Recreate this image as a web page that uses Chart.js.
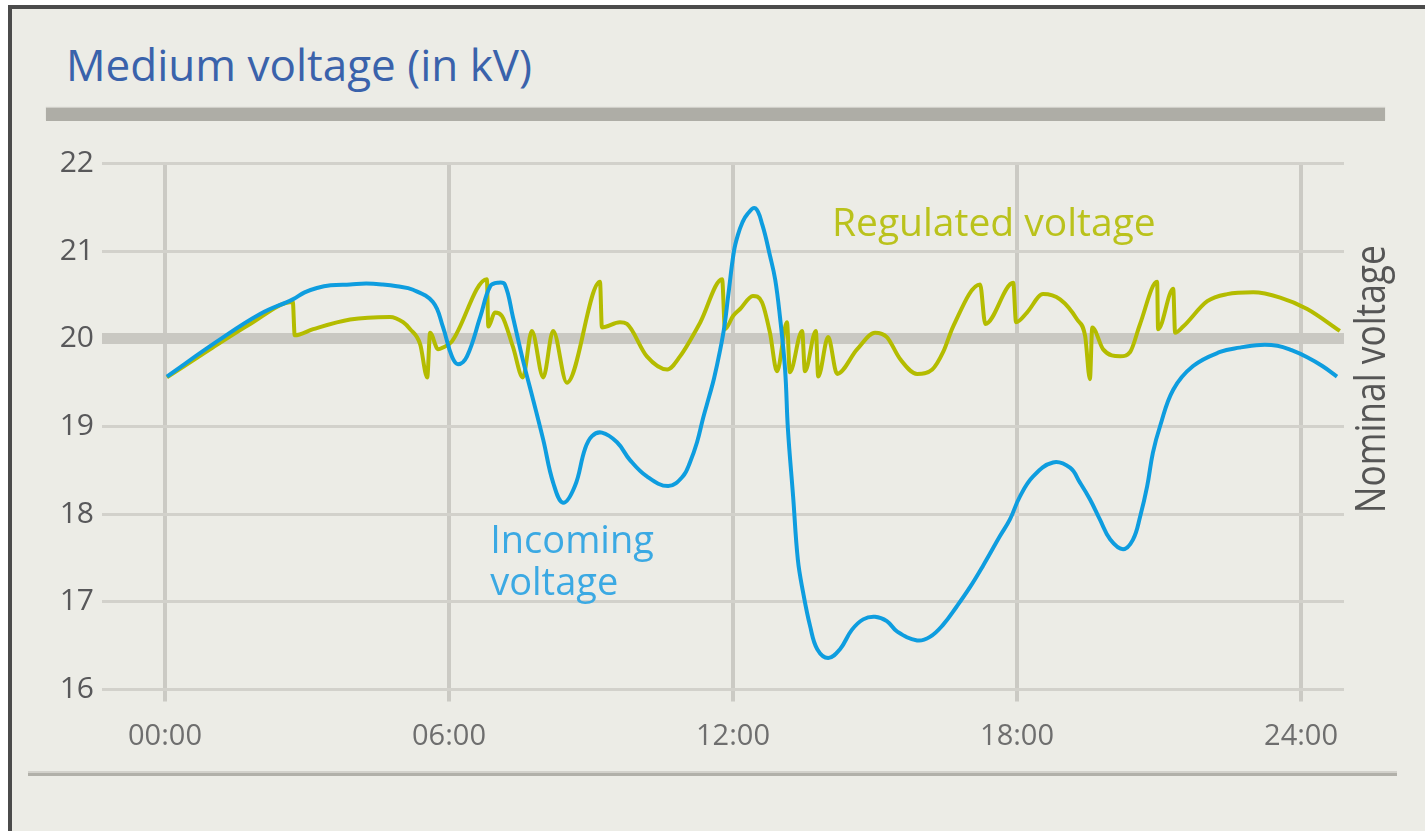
<!DOCTYPE html>
<html>
<head>
<meta charset="utf-8">
<script src="https://cdn.jsdelivr.net/npm/chart.js@4.4.0/dist/chart.umd.min.js"></script>
<style>
  html, body { margin: 0; padding: 0; background: #ffffff; width: 1425px; height: 831px; overflow: hidden; }
  #frame { position: absolute; left: 8px; top: 5px; right: 0; bottom: 0; background: #ecece6;
           border-left: 4px solid #4b4b4b; border-top: 4px solid #4b4b4b; }
  #title { position: absolute; left: 66px; top: 42px; font-family: "Open Sans", sans-serif; font-size: 44px;
           line-height: 44px; color: #3a62ab; white-space: nowrap; }
  #bar { position: absolute; left: 46px; top: 108px; width: 1339px; height: 13px; background: #aeada6;
         box-shadow: 0 -1px 1px #d0cfc9; }
  #foot { position: absolute; left: 28px; top: 771px; width: 1369px; height: 5px; background: #b1b0a9;
          border-top: 2px solid #d2d1cb; box-sizing: border-box; }
  #c { position: absolute; left: 0; top: 0; }
</style>
</head>
<body>
<div id="frame"></div>
<div id="title">Medium voltage (in kV)</div>
<div id="bar"></div>
<div id="foot"></div>
<canvas id="c" width="1425" height="831"></canvas>
<script>
// ---- data ----
const seriesNames = ['Incoming voltage', 'Regulated voltage'];
const referenceName = 'Nominal voltage';
const nominalValue = 20;

const xTickValues = [0, 6, 12, 18, 24];
const xTickLabels = ['00:00', '06:00', '12:00', '18:00', '24:00'];
const yTickValues = [16, 17, 18, 19, 20, 21, 22];

const incomingHours = [0.04, 1.1, 2.0, 2.7, 2.95, 3.21, 3.5, 3.91, 4.25, 4.6, 4.9, 5.24, 5.66, 5.87, 6.06, 6.19, 6.38, 6.66,
  6.87, 7.04, 7.18, 7.35, 7.56, 7.78, 7.99, 8.2, 8.41, 8.66, 8.87, 9.02, 9.23, 9.55, 9.82, 10.18, 10.63, 10.94, 11.09,
  11.24, 11.37, 11.5, 11.6, 11.72, 11.82, 11.9, 12.02, 12.1, 12.2, 12.3, 12.47, 12.62, 12.78, 12.89, 12.99, 13.1, 13.16,
  13.27, 13.37, 13.48, 13.63, 13.78, 14.01, 14.26, 14.51, 14.75, 15.0, 15.25, 15.47, 15.89, 16.16, 16.44, 16.73, 17.01,
  17.28, 17.64, 17.85, 18.06, 18.34, 18.76, 19.12, 19.33, 19.54, 19.75, 19.97, 20.24, 20.45, 20.6, 20.75, 20.87, 21.02,
  21.3, 21.72, 22.29, 22.7, 23.14, 23.5, 23.8, 24.13, 24.45, 24.76];
const incomingValues = [19.57, 19.97, 20.28, 20.45, 20.53, 20.58, 20.61, 20.62, 20.63, 20.62, 20.6, 20.56, 20.42, 20.14,
  19.8, 19.71, 19.8, 20.25, 20.6, 20.64, 20.62, 20.25, 19.76, 19.3, 18.85, 18.36, 18.13, 18.32, 18.74, 18.89, 18.93,
  18.82, 18.62, 18.43, 18.32, 18.43, 18.59, 18.82, 19.1, 19.35, 19.55, 19.85, 20.15, 20.5, 21.0, 21.18, 21.33, 21.42,
  21.49, 21.3, 20.95, 20.68, 20.26, 19.65, 18.97, 18.2, 17.48, 17.11, 16.72, 16.46, 16.36, 16.46, 16.68, 16.8, 16.83,
  16.78, 16.66, 16.56, 16.6, 16.74, 16.95, 17.17, 17.41, 17.75, 17.94, 18.2, 18.43, 18.59, 18.53, 18.36, 18.17, 17.94,
  17.71, 17.6, 17.71, 17.97, 18.32, 18.7, 19.0, 19.42, 19.69, 19.85, 19.9, 19.93, 19.92, 19.87, 19.79, 19.69, 19.57];

const regulatedHours = [0.04, 0.95, 1.8, 2.7, 2.74, 3.13, 3.91, 4.75, 5.03, 5.18, 5.39, 5.54, 5.6, 5.77, 5.87, 6.06, 6.8, 6.83,
  6.97, 7.12, 7.35, 7.56, 7.75, 7.99, 8.2, 8.49, 9.19, 9.23, 9.61, 9.76, 10.18, 10.61, 10.88, 11.31, 11.77, 11.83, 12.0,
  12.15, 12.42, 12.61, 12.78, 12.93, 13.14, 13.2, 13.46, 13.52, 13.75, 13.8, 14.01, 14.2, 14.62, 15.0, 15.25, 15.53,
  15.89, 16.21, 16.44, 16.65, 17.22, 17.33, 17.92, 17.98, 18.21, 18.55, 18.91, 19.27, 19.44, 19.54, 19.59, 19.82,
  20.18, 20.39, 20.6, 20.96, 20.98, 21.3, 21.34, 21.51, 22.02, 22.44, 22.99, 23.56, 24.13, 24.82];
const regulatedValues = [19.56, 19.88, 20.17, 20.42, 20.04, 20.11, 20.22, 20.25, 20.19, 20.11, 19.94, 19.56, 20.07, 19.88,
  19.9, 19.97, 20.68, 20.14, 20.3, 20.26, 19.91, 19.56, 20.09, 19.56, 20.09, 19.5, 20.65, 20.13, 20.19, 20.17, 19.8,
  19.65, 19.8, 20.19, 20.68, 20.11, 20.26, 20.34, 20.49, 20.42, 20.07, 19.63, 20.19, 19.62, 20.09, 19.63, 20.09, 19.57,
  20.02, 19.6, 19.88, 20.07, 20.02, 19.77, 19.6, 19.65, 19.85, 20.14, 20.62, 20.17, 20.64, 20.19, 20.3, 20.51, 20.45,
  20.22, 20.03, 19.54, 20.13, 19.88, 19.8, 19.85, 20.17, 20.65, 20.11, 20.57, 20.07, 20.14, 20.43, 20.51, 20.53,
  20.47, 20.34, 20.09];

// ---- styles ----
const BLUE = '#0e9ddf';
const OLIVE = '#b4bc00';
const FONT = '"Open Sans", sans-serif';

const toPoints = (xs, ys) => xs.map((h, i) => ({ x: h, y: ys[i] }));

const labelPlugin = {
  id: 'seriesLabels',
  afterDatasetsDraw(chart) {
    const { ctx, scales: { x, y }, chartArea } = chart;
    ctx.save();
    ctx.textAlign = 'left';
    ctx.textBaseline = 'alphabetic';
    ctx.font = '39px ' + FONT;
    ctx.fillStyle = '#bac21c';
    ctx.fillText(seriesNames[1], x.getPixelForValue(14.09), y.getPixelForValue(21.17));
    ctx.font = '38px ' + FONT;
    ctx.fillStyle = '#3ba9e3';
    const parts = seriesNames[0].split(' ');
    ctx.fillText(parts[0], x.getPixelForValue(6.87), y.getPixelForValue(17.56));
    ctx.fillText(parts[1], x.getPixelForValue(6.87), y.getPixelForValue(17.08));
    ctx.font = '42px ' + FONT;
    ctx.fillStyle = '#555555';
    ctx.translate(chartArea.right + 41, y.getPixelForValue(19.54));
    ctx.rotate(-Math.PI / 2);
    const w = ctx.measureText(referenceName).width;
    ctx.scale(268 / w, 1);
    ctx.textAlign = 'center';
    ctx.fillText(referenceName, 0, 0);
    ctx.restore();
  }
};

new Chart(document.getElementById('c'), {
  type: 'line',
  data: {
    datasets: [
      { label: seriesNames[0], data: toPoints(incomingHours, incomingValues), borderColor: BLUE, borderWidth: 4,
        pointRadius: 0, tension: 0.4, fill: false, order: 1 },
      { label: seriesNames[1], data: toPoints(regulatedHours, regulatedValues), borderColor: OLIVE, borderWidth: 4,
        pointRadius: 0, cubicInterpolationMode: 'monotone', fill: false, order: 2 }
    ]
  },
  options: {
    responsive: false,
    animation: false,
    devicePixelRatio: 1,
    layout: { padding: { top: 163.5, left: 0, right: 81, bottom: 0 } },
    plugins: { legend: { display: false }, tooltip: { enabled: false }, title: { display: false } },
    scales: {
      x: {
        type: 'linear', min: -1.331, max: 24.908,
        afterBuildTicks: s => { s.ticks = xTickValues.map(v => ({ value: v })); },
        afterFit: s => { s.height = 141.5; },
        ticks: { callback: (v) => xTickLabels[xTickValues.indexOf(v)], font: { family: FONT, size: 29 },
                 color: '#6e6e6e', padding: 18, maxRotation: 0, autoSkip: false },
        grid: { color: '#cbcac4', lineWidth: 4, drawTicks: true, tickLength: 12 },
        border: { display: false }
      },
      y: {
        min: 16, max: 22,
        afterBuildTicks: s => { s.ticks = yTickValues.map(v => ({ value: v })); },
        afterFit: s => { s.width = 102; },
        ticks: { font: { family: FONT, size: 30 }, color: '#58585a', padding: 8 },
        grid: { drawTicks: false,
                lineWidth: c => (c.tick && c.tick.value === nominalValue) ? 11 : 3,
                color: c => (c.tick && c.tick.value === nominalValue) ? '#c9c8c2' : '#d2d1cb' },
        border: { display: false }
      }
    }
  },
  plugins: [labelPlugin]
});
</script>
</body>
</html>
